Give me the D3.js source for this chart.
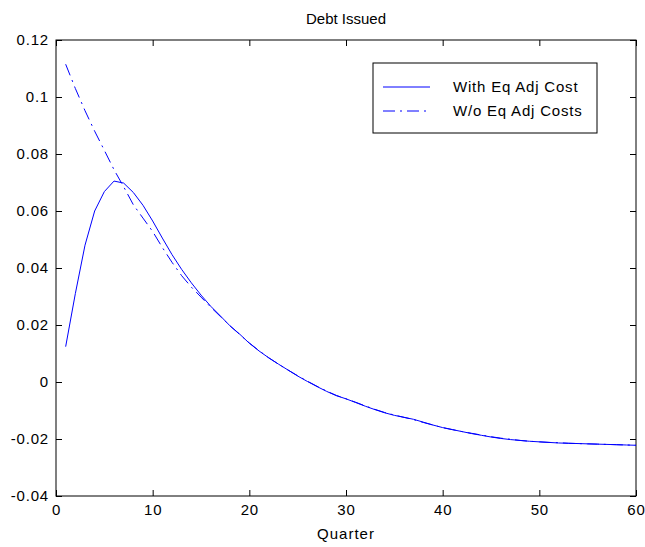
<!DOCTYPE html>
<html>
<head>
<meta charset="utf-8">
<script src="https://cdn.jsdelivr.net/npm/d3@7"></script>
<style>
  html, body { margin: 0; padding: 0; background: #fff; }
  svg { display: block; font-family: "Liberation Sans", Arial, Helvetica, sans-serif; }
</style>
</head>
<body>
<svg id="chart" width="645" height="547"></svg>
<script>
// Impulse response of debt issued, quarters 1..60
const quarters = d3.range(1, 61);

const withEqAdjCost = [
  0.0124, 0.0310, 0.0480, 0.0600, 0.0668, 0.0705, 0.0698, 0.0665, 0.0620, 0.0565,
  0.0505, 0.0447, 0.0395, 0.0348, 0.0305, 0.0266, 0.0232, 0.0197, 0.0168, 0.0136,
  0.0109, 0.0085, 0.0063, 0.0042, 0.0021, 0.0002, -0.0016, -0.0033, -0.0048, -0.0059,
  -0.0072, -0.0085, -0.0097, -0.0108, -0.0117, -0.0124, -0.0131, -0.0141, -0.0151, -0.0160,
  -0.0167, -0.0174, -0.0181, -0.0187, -0.0193, -0.0198, -0.0202, -0.0205, -0.0208, -0.0210,
  -0.0212, -0.0214, -0.0215, -0.0216, -0.0217, -0.0218, -0.0219, -0.0220, -0.0221, -0.0222
];

const withoutEqAdjCost = [
  0.1115, 0.1030, 0.0952, 0.0880, 0.0813, 0.0745, 0.0685, 0.0622, 0.0575, 0.0528,
  0.0472, 0.0420, 0.0373, 0.0333, 0.0298, 0.0263, 0.0230, 0.0197, 0.0167, 0.0137,
  0.0110, 0.0085, 0.0063, 0.0042, 0.0022, 0.0003, -0.0015, -0.0032, -0.0047, -0.0059,
  -0.0071, -0.0084, -0.0096, -0.0107, -0.0116, -0.0124, -0.0132, -0.0142, -0.0151, -0.0160,
  -0.0167, -0.0174, -0.0180, -0.0186, -0.0192, -0.0197, -0.0201, -0.0205, -0.0208, -0.0210,
  -0.0212, -0.0213, -0.0215, -0.0216, -0.0217, -0.0218, -0.0219, -0.0220, -0.0221, -0.0222
];

const seriesNames = ["With Eq Adj Cost", "W/o Eq Adj Costs"];
const xTicks = [0, 10, 20, 30, 40, 50, 60];
const yTicks = [-0.04, -0.02, 0, 0.02, 0.04, 0.06, 0.08, 0.1, 0.12];

const svg = d3.select("#chart");
const plot = { left: 56, right: 636, top: 40, bottom: 496 };
const lineColor = "#0000ff";
const dashDot = "12,5,2,5";
const tickLen = 6;

const x = d3.scaleLinear().domain([0, 60]).range([plot.left, plot.right]);
const y = d3.scaleLinear().domain([-0.04, 0.12]).range([plot.bottom, plot.top]);

const fmt = v => (v === 0 ? "0" : String(+v.toFixed(2)));

// Axes with inward ticks on all four sides
const axisStyle = g => {
  g.selectAll(".domain").remove();
  g.selectAll(".tick line").attr("stroke", "#000").attr("stroke-width", 1);
  g.selectAll(".tick text")
    .attr("fill", "#000")
    .attr("font-size", "15px")
    .attr("letter-spacing", "0.8px");
};

svg.append("g")
  .attr("transform", `translate(0,${plot.bottom})`)
  .call(d3.axisBottom(x).tickValues(xTicks).tickFormat(fmt).tickSizeInner(-tickLen).tickSizeOuter(0).tickPadding(8))
  .call(axisStyle);

svg.append("g")
  .attr("transform", `translate(0,${plot.top})`)
  .call(d3.axisTop(x).tickValues(xTicks).tickFormat("").tickSizeInner(-tickLen).tickSizeOuter(0))
  .call(axisStyle);

svg.append("g")
  .attr("transform", `translate(${plot.left},0)`)
  .call(d3.axisLeft(y).tickValues(yTicks).tickFormat(fmt).tickSizeInner(-tickLen).tickSizeOuter(0).tickPadding(7))
  .call(axisStyle);

svg.append("g")
  .attr("transform", `translate(${plot.right},0)`)
  .call(d3.axisRight(y).tickValues(yTicks).tickFormat("").tickSizeInner(-tickLen).tickSizeOuter(0))
  .call(axisStyle);

// Plot box
svg.append("rect")
  .attr("x", plot.left).attr("y", plot.top)
  .attr("width", plot.right - plot.left).attr("height", plot.bottom - plot.top)
  .attr("fill", "none").attr("stroke", "#000").attr("stroke-width", 1);

// Series lines
const line = d3.line()
  .x((d, i) => x(quarters[i]))
  .y(d => y(d));

svg.append("clipPath").attr("id", "plot-clip")
  .append("rect")
  .attr("x", plot.left).attr("y", plot.top)
  .attr("width", plot.right - plot.left).attr("height", plot.bottom - plot.top);

const lines = svg.append("g").attr("clip-path", "url(#plot-clip)");

lines.append("path")
  .datum(withoutEqAdjCost)
  .attr("d", line)
  .attr("fill", "none")
  .attr("stroke", lineColor)
  .attr("stroke-width", 1)
  .attr("stroke-dasharray", dashDot);

lines.append("path")
  .datum(withEqAdjCost)
  .attr("d", line)
  .attr("fill", "none")
  .attr("stroke", lineColor)
  .attr("stroke-width", 1);

// Title and axis label
svg.append("text")
  .attr("x", (plot.left + plot.right) / 2).attr("y", 24)
  .attr("text-anchor", "middle")
  .attr("font-size", "15px")
  .text("Debt Issued");

svg.append("text")
  .attr("x", (plot.left + plot.right) / 2).attr("y", 539)
  .attr("text-anchor", "middle")
  .attr("font-size", "15px")
  .attr("letter-spacing", "1px")
  .text("Quarter");

// Legend
const legend = svg.append("g").attr("transform", "translate(373,63)");
legend.append("rect")
  .attr("width", 224).attr("height", 70)
  .attr("fill", "#fff").attr("stroke", "#000").attr("stroke-width", 1);

const dashes = [null, dashDot];
seriesNames.forEach((name, i) => {
  const ly = 24 + i * 24;
  legend.append("line")
    .attr("x1", 10).attr("x2", 57)
    .attr("y1", ly).attr("y2", ly)
    .attr("stroke", lineColor).attr("stroke-width", 1)
    .attr("stroke-dasharray", dashes[i]);
  legend.append("text")
    .attr("x", 80).attr("y", ly + 5)
    .attr("font-size", "15px")
    .attr("letter-spacing", "0.8px")
    .text(name);
});
</script>
</body>
</html>
